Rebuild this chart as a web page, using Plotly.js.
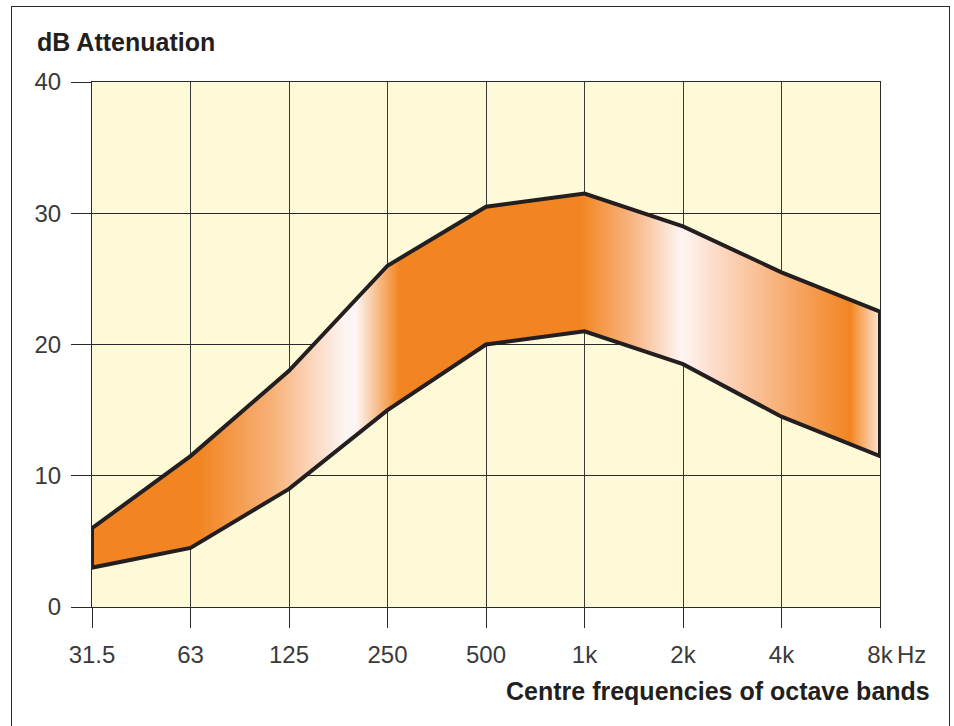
<!DOCTYPE html>
<html>
<head>
<meta charset="utf-8">
<script src="https://cdn.plot.ly/plotly-3.0.1.min.js"></script>
<style>
  html, body { margin: 0; padding: 0; background: #fff; }
  #wrap { position: relative; width: 954px; height: 726px; overflow: hidden; }
  #chart { position: absolute; left: 0; top: 0; width: 954px; height: 726px; }
  #frame { position: absolute; left: 11px; top: 6px; width: 937px; height: 760px;
           border: 1.5px solid #2a2a2a; pointer-events: none; }
</style>
</head>
<body>
<div id="wrap">
  <div id="chart"></div>
  <div id="frame"></div>
</div>
<script>
// Octave band centre frequencies
const bands = ["31.5", "63", "125", "250", "500", "1k", "2k", "4k", "8k"];
// Upper and lower attenuation limits (dB)
const upper = [6, 11.5, 18, 26, 30.5, 31.5, 29, 25.5, 22.5];
const lower = [3, 4.5, 9, 15, 20, 21, 18.5, 14.5, 11.5];
const yTicks = [0, 10, 20, 30, 40];

const idx = bands.map((b, i) => i);
const polyX = idx.concat(idx.slice().reverse()).concat([0]);
const polyY = upper.concat(lower.slice().reverse()).concat([upper[0]]);

const ORANGE = '#f28522';
const WHITE = '#fdf5f3';

const band = {
  type: 'scatter',
  mode: 'lines',
  x: polyX,
  y: polyY,
  fill: 'toself',
  fillgradient: {
    type: 'horizontal',
    start: 0,
    stop: bands.length - 1,
    colorscale: [
      [0.0, ORANGE],
      [0.137, ORANGE],
      [0.23, '#f7b27a'],
      [0.321, WHITE],
      [0.335, WHITE],
      [0.39, ORANGE],
      [0.62, ORANGE],
      [0.69, '#f8b98a'],
      [0.748, WHITE],
      [0.80, '#fcd7c0'],
      [0.90, '#f6a25e'],
      [0.962, ORANGE],
      [1.0, '#fde6d6']
    ]
  },
  line: { color: '#231f20', width: 4 },
  hoverinfo: 'skip',
  showlegend: false
};

const layout = {
  width: 954,
  height: 726,
  margin: { l: 92, r: 74, t: 82, b: 119 },
  paper_bgcolor: 'rgba(0,0,0,0)',
  plot_bgcolor: '#fef9d6',
  font: { family: 'Liberation Sans, Arial, sans-serif', color: '#333' },
  showlegend: false,
  xaxis: {
    range: [0, bands.length - 1],
    tickvals: idx,
    ticktext: bands,
    showgrid: true,
    gridcolor: '#3a3a3a',
    gridwidth: 1,
    zeroline: false,
    showline: true,
    linecolor: '#2a2a2a',
    linewidth: 1,
    mirror: true,
    ticks: 'outside',
    ticklen: 20,
    tickcolor: '#2a2a2a',
    tickwidth: 1,
    ticklabelstandoff: 6,
    tickfont: { size: 24, color: '#3a3a3a' },
    fixedrange: true
  },
  yaxis: {
    range: [0, 40],
    tickvals: yTicks,
    ticktext: yTicks.map(String),
    showgrid: true,
    gridcolor: '#2a2a2a',
    gridwidth: 1,
    zeroline: false,
    showline: true,
    linecolor: '#2a2a2a',
    linewidth: 1,
    mirror: true,
    ticks: 'outside',
    ticklen: 20,
    tickcolor: '#2a2a2a',
    tickwidth: 1,
    ticklabelstandoff: 5,
    tickfont: { size: 24, color: '#3a3a3a' },
    fixedrange: true
  },
  annotations: [
    {
      text: '<b>dB Attenuation</b>',
      xref: 'paper', yref: 'paper',
      x: (35 - 92) / 788, y: 1,
      xanchor: 'left', yanchor: 'middle',
      yshift: 40,
      showarrow: false,
      font: { size: 25, color: '#231f20' }
    },
    {
      text: 'Hz',
      xref: 'paper', yref: 'paper',
      x: 1, y: 0,
      xanchor: 'left', yanchor: 'middle',
      xshift: 15, yshift: -47,
      showarrow: false,
      font: { size: 24, color: '#3a3a3a' }
    },
    {
      text: '<b>Centre frequencies of octave bands</b>',
      xref: 'paper', yref: 'paper',
      x: (932 - 92) / 788, y: 0,
      xanchor: 'right', yanchor: 'middle',
      yshift: -84,
      showarrow: false,
      font: { size: 25, color: '#231f20' }
    }
  ]
};

Plotly.newPlot('chart', [band], layout, { staticPlot: true, displayModeBar: false });
</script>
</body>
</html>
